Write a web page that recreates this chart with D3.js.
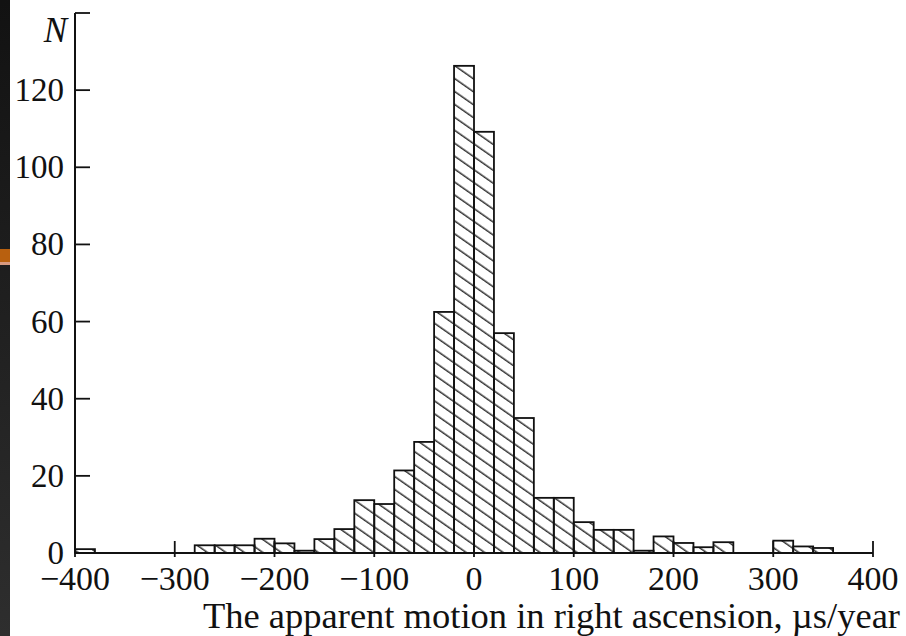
<!DOCTYPE html>
<html>
<head>
<meta charset="utf-8">
<script src="https://cdn.jsdelivr.net/npm/d3@7"></script>
<style>
  body { margin: 0; background: #fff; }
  svg { display: block; }
  text { font-family: "Liberation Serif", "Times New Roman", serif; fill: #111; }
</style>
</head>
<body>
<div id="chart"></div>
<script>
// histogram bins (lower edge, width 20) and counts
const binLow = [-400, -280, -260, -240, -220, -200, -180, -160, -140, -120, -100, -80, -60, -40, -20,
                0, 20, 40, 60, 80, 100, 120, 140, 160, 180, 200, 220, 240, 300, 320, 340];
const counts = [1, 2, 2, 2, 3.7, 2.5, 0.6, 3.6, 6.2, 13.7, 12.7, 21.4, 28.8, 62.5, 126.3,
                109.2, 57, 35, 14.3, 14.3, 8, 6, 6, 0.6, 4.3, 2.6, 1.5, 2.8, 3.2, 1.7, 1.3];
const binWidth = 20;
const xTicks = [-400, -300, -200, -100, 0, 100, 200, 300, 400];
const yTicks = [0, 20, 40, 60, 80, 100, 120];
const yLabel = "N";
const xLabel = "The apparent motion in right ascension, \u00b5s/year";

const W = 906, H = 636;

const svg = d3.select("#chart")
    .append("svg")
    .attr("width", W)
    .attr("height", H);

// dark strip on the left edge of the scan
const defs = svg.append("defs");
const grad = defs.append("linearGradient")
    .attr("id", "strip")
    .attr("x1", 0).attr("y1", 0).attr("x2", 0).attr("y2", 1);
grad.append("stop").attr("offset", "0%").attr("stop-color", "#121212");
grad.append("stop").attr("offset", "100%").attr("stop-color", "#2e2e2e");
svg.append("rect").attr("x", 0).attr("y", 0).attr("width", 10).attr("height", H)
    .attr("fill", "url(#strip)");
svg.append("rect").attr("x", 0).attr("y", 249).attr("width", 10).attr("height", 14)
    .attr("fill", "#b8600f");
svg.append("rect").attr("x", 0).attr("y", 262).attr("width", 10).attr("height", 3)
    .attr("fill", "#d89a80");

// hatch pattern
const pat = defs.append("pattern")
    .attr("id", "hatch")
    .attr("patternUnits", "userSpaceOnUse")
    .attr("width", 10.6)
    .attr("height", 10.6)
    .attr("patternTransform", "rotate(35)");
pat.append("line")
    .attr("x1", 0).attr("y1", 5).attr("x2", 10.6).attr("y2", 5)
    .attr("stroke", "#111")
    .attr("stroke-width", 1.3);

const x = d3.scaleLinear().domain([-400, 400]).range([75, 873]);
const y = d3.scaleLinear().domain([0, 140]).range([553, 13]);

// bars
svg.selectAll(".bar")
    .data(binLow)
    .join("rect")
    .attr("class", "bar")
    .attr("x", d => x(d))
    .attr("width", d => x(d + binWidth) - x(d))
    .attr("y", (d, i) => y(counts[i]))
    .attr("height", (d, i) => y(0) - y(counts[i]))
    .attr("fill", "url(#hatch)")
    .attr("stroke", "#111")
    .attr("stroke-width", 1.8);

// x axis: line + ticks crossing it
svg.append("line")
    .attr("x1", x(-400)).attr("x2", x(400))
    .attr("y1", y(0)).attr("y2", y(0))
    .attr("stroke", "#111").attr("stroke-width", 2);
svg.selectAll(".xtick")
    .data(xTicks)
    .join("line")
    .attr("x1", d => x(d)).attr("x2", d => x(d))
    .attr("y1", y(0) - 12).attr("y2", y(0) + 4)
    .attr("stroke", "#111").attr("stroke-width", 1.8);
svg.selectAll(".xlab")
    .data(xTicks)
    .join("text")
    .attr("x", d => x(d))
    .attr("y", 590)
    .attr("text-anchor", "middle")
    .style("font-size", "34px")
    .text(d => d < 0 ? "\u2212" + Math.abs(d) : d);

// y axis
svg.append("line")
    .attr("x1", x(-400)).attr("x2", x(-400))
    .attr("y1", y(0)).attr("y2", y(140))
    .attr("stroke", "#111").attr("stroke-width", 2);
svg.selectAll(".ytick")
    .data(yTicks.concat([140]))
    .join("line")
    .attr("x1", x(-400)).attr("x2", x(-400) + 15)
    .attr("y1", d => y(d)).attr("y2", d => y(d))
    .attr("stroke", "#111").attr("stroke-width", 1.8);
svg.selectAll(".ylab")
    .data(yTicks)
    .join("text")
    .attr("x", 64)
    .attr("y", d => y(d) + 11)
    .attr("text-anchor", "end")
    .style("font-size", "33px")
    .text(d => d);

svg.append("text")
    .attr("x", 67)
    .attr("y", 42)
    .attr("text-anchor", "end")
    .style("font-size", "35px")
    .style("font-style", "italic")
    .text(yLabel);

svg.append("text")
    .attr("x", 203)
    .attr("y", 628)
    .attr("textLength", 697)
    .attr("lengthAdjust", "spacingAndGlyphs")
    .style("font-size", "35px")
    .text(xLabel);
</script>
</body>
</html>
